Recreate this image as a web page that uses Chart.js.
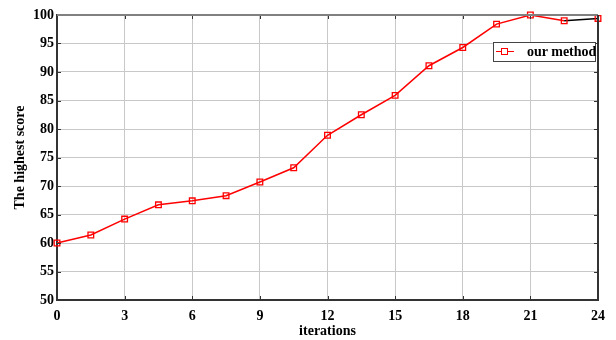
<!DOCTYPE html>
<html>
<head>
<meta charset="utf-8">
<script src="https://cdn.jsdelivr.net/npm/chart.js@4/dist/chart.umd.min.js"></script>
<style>
  html, body { margin: 0; padding: 0; background: #fff; }
  #wrap { position: relative; width: 616px; height: 340px; }
  #legend {
    position: absolute; left: 493px; top: 42px; width: 101px; height: 18px;
    border: 1px solid #444; background: #fff; white-space: nowrap;
    font: bold 14px "Liberation Serif", "Times New Roman", serif; color: #000;
    display: flex; align-items: center; box-sizing: content-box;
  }
  #legend .sample { position: relative; flex: none; width: 18px; height: 10px; margin-left: 2px; margin-right: 13px; }
  #legend .sample .ln { position: absolute; left: 0; right: 0; top: 4px; border-top: 1.5px solid #ff0000; }
  #legend .sample .mk { position: absolute; left: 5px; top: 1px; width: 5px; height: 5px; border: 1.3px solid #ff0000; background: #fff; }
</style>
</head>
<body>
<div id="wrap">
  <canvas id="c" width="616" height="340"></canvas>
  <div id="legend"><div class="sample"><div class="ln"></div><div class="mk"></div></div><span>our method</span></div>
</div>
<script>
const iterations = [0, 1.5, 3, 4.5, 6, 7.5, 9, 10.5, 12, 13.5, 15, 16.5, 18, 19.5, 21, 22.5, 24];
const highestScore = [60.0, 61.4, 64.2, 66.7, 67.4, 68.3, 70.7, 73.2, 78.9, 82.5, 85.9, 91.1, 94.3, 98.4, 100.0, 99.0, 99.4];
const seriesName = 'our method';
const xTitle = 'iterations';
const yTitle = 'The highest score';
const xTicks = [0, 3, 6, 9, 12, 15, 18, 21, 24];
const yTicks = [50, 55, 60, 65, 70, 75, 80, 85, 90, 95, 100];
const blackSegmentStartX = 22.5;

const FONT = '"Liberation Serif", "Times New Roman", serif';

const frame = {
  id: 'frame',
  afterDraw(chart) {
    const { ctx, chartArea: a, scales } = chart;
    ctx.save();
    ctx.strokeStyle = '#333';
    ctx.lineWidth = 1;
    const L = 4;
    xTicks.forEach(v => {
      const px = Math.round(scales.x.getPixelForValue(v)) + 0.5;
      ctx.beginPath();
      ctx.moveTo(px, a.bottom); ctx.lineTo(px, a.bottom - L);
      ctx.moveTo(px, a.top); ctx.lineTo(px, a.top + L);
      ctx.stroke();
    });
    yTicks.forEach(v => {
      const py = Math.round(scales.y.getPixelForValue(v)) + 0.5;
      ctx.beginPath();
      ctx.moveTo(a.left, py); ctx.lineTo(a.left + L, py);
      ctx.moveTo(a.right, py); ctx.lineTo(a.right - L, py);
      ctx.stroke();
    });
    ctx.lineWidth = 2;
    ctx.strokeStyle = '#808080';
    ctx.beginPath(); ctx.moveTo(a.left, a.top); ctx.lineTo(a.right, a.top); ctx.stroke();
    ctx.strokeStyle = '#333';
    ctx.beginPath(); ctx.moveTo(a.right, a.top); ctx.lineTo(a.right, a.bottom); ctx.stroke();
    ctx.restore();
  }
};

new Chart(document.getElementById('c'), {
  type: 'line',
  data: {
    datasets: [{
      label: seriesName,
      data: iterations.map((x, i) => ({ x, y: highestScore[i] })),
      borderColor: '#ff0000',
      borderWidth: 1.5,
      backgroundColor: '#ffffff',
      pointStyle: 'rect',
      pointRadius: 4,
      pointBorderWidth: 1.3,
      pointBorderColor: '#ff0000',
      pointBackgroundColor: 'rgba(255,255,255,0)',
      tension: 0,
      clip: 6,
      segment: {
        borderColor: ctx => (ctx.p0.parsed.x >= blackSegmentStartX ? '#000000' : '#ff0000')
      }
    }]
  },
  options: {
    responsive: false,
    animation: false,
    layout: { padding: { left: 0, right: 18, top: 15, bottom: 0 } },
    plugins: { legend: { display: false }, tooltip: { enabled: false } },
    scales: {
      x: {
        type: 'linear', min: 0, max: 24,
        afterBuildTicks: s => { s.ticks = xTicks.map(v => ({ value: v })); },
        afterFit: s => { s.height = 40; },
        grid: { color: '#c8c8c8', lineWidth: 1, drawTicks: false },
        border: { color: '#333', width: 2 },
        ticks: { color: '#000', padding: 8, maxRotation: 0, font: { family: FONT, weight: 'bold', size: 14 } },
        title: { display: true, text: xTitle, color: '#000', padding: { top: 0, bottom: 0 }, font: { family: FONT, weight: 'bold', size: 14 } }
      },
      y: {
        type: 'linear', min: 50, max: 100,
        afterBuildTicks: s => { s.ticks = yTicks.map(v => ({ value: v })); },
        afterFit: s => { s.width = 57; },
        grid: { color: '#c8c8c8', lineWidth: 1, drawTicks: false },
        border: { color: '#333', width: 2 },
        ticks: { color: '#000', padding: 3, font: { family: FONT, weight: 'bold', size: 14 } },
        title: { display: true, text: yTitle, color: '#000', padding: { top: 12, bottom: 0 }, font: { family: FONT, weight: 'bold', size: 14 } }
      }
    }
  },
  plugins: [frame]
});
</script>
</body>
</html>
